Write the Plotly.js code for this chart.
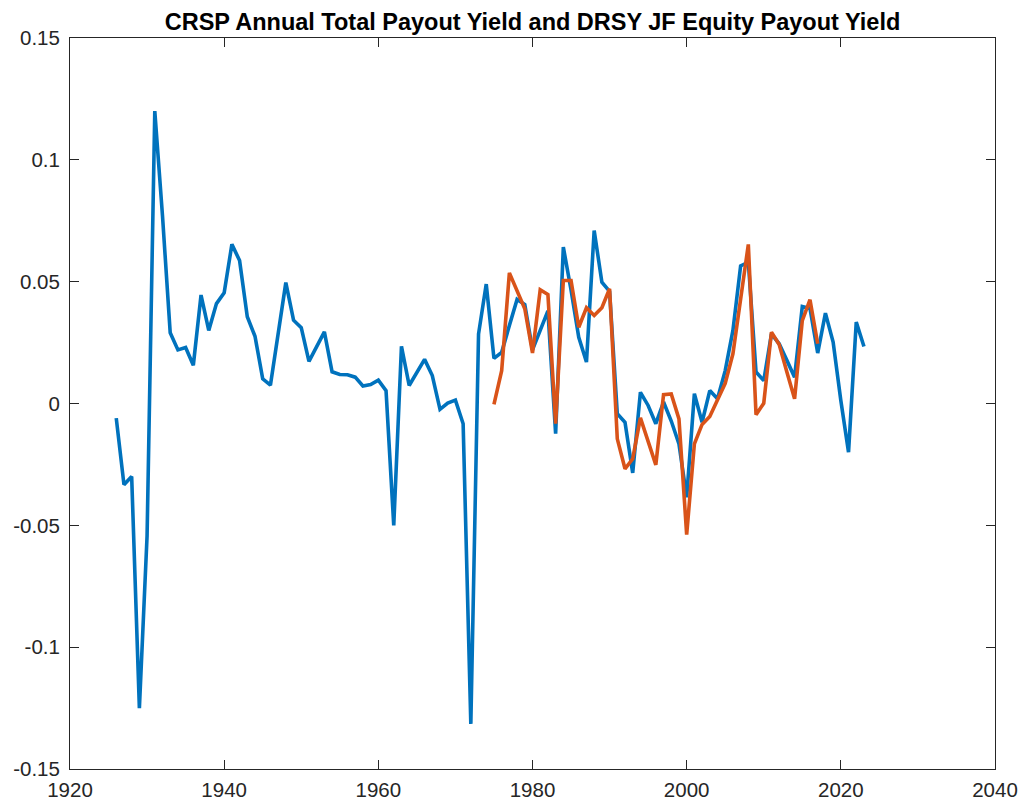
<!DOCTYPE html>
<html><head><meta charset="utf-8">
<script src="https://cdn.plot.ly/plotly-3.0.1.min.js"></script>
<style>html,body{margin:0;padding:0;background:#fff;}#chart{width:1020px;height:802px;}</style>
</head><body><div id="chart"></div>
<script>
const crspYears = [1926,1927,1928,1929,1930,1931,1932,1933,1934,1935,1936,1937,1938,1939,1940,1941,1942,1943,1944,1945,1946,1947,1948,1949,1950,1951,1952,1953,1954,1955,1956,1957,1958,1959,1960,1961,1962,1963,1964,1965,1966,1967,1968,1969,1970,1971,1972,1973,1974,1975,1976,1977,1978,1979,1980,1981,1982,1983,1984,1985,1986,1987,1988,1989,1990,1991,1992,1993,1994,1995,1996,1997,1998,1999,2000,2001,2002,2003,2004,2005,2006,2007,2008,2009,2010,2011,2012,2013,2014,2015,2016,2017,2018,2019,2020,2021,2022,2023];
const crspYield = [-0.006,-0.0333,-0.030,-0.125,-0.0543,0.120,0.077,0.029,0.022,0.023,0.0157,0.0445,0.030,0.041,0.0454,0.0653,0.0587,0.0356,0.0276,0.0101,0.0075,0.0276,0.0496,0.0342,0.0311,0.0173,0.0237,0.0294,0.0130,0.0119,0.0118,0.0108,0.0072,0.0078,0.0096,0.0053,-0.050,0.0235,0.0074,0.0127,0.0181,0.0115,-0.0024,0.0002,0.0014,-0.0083,-0.1315,0.0285,0.0490,0.0185,0.0210,0.032,0.0427,0.0406,0.022,0.030,0.038,-0.0124,0.0642,0.0466,0.0272,0.017,0.071,0.0498,0.046,-0.0042,-0.0077,-0.0285,0.0046,-0.0008,-0.0083,0.0006,-0.0072,-0.0166,-0.0385,0.004,-0.0077,0.0053,0.0020,0.0135,0.030,0.0565,0.058,0.0129,0.0094,0.0286,0.0245,0.0177,0.0108,0.0398,0.039,0.0207,0.0371,0.0252,0.0012,-0.020,0.0334,0.0234];
const drsyYears = [1975,1976,1977,1978,1979,1980,1981,1982,1983,1984,1985,1986,1987,1988,1989,1990,1991,1992,1993,1994,1995,1996,1997,1998,1999,2000,2001,2002,2003,2004,2005,2006,2007,2008,2009,2010,2011,2012,2013,2014,2015,2016,2017];
const drsyYield = [-0.0004,0.0135,0.0536,0.0464,0.0389,0.0207,0.0467,0.0447,-0.0083,0.0505,0.0505,0.0313,0.0393,0.0361,0.0393,0.0471,-0.0145,-0.0268,-0.0227,-0.0059,-0.0159,-0.0252,0.0036,0.0039,-0.0063,-0.0538,-0.0166,-0.0086,-0.0053,0.0012,0.0083,0.0204,0.0423,0.0653,-0.0046,0.0001,0.0293,0.0242,0.0129,0.0019,0.034,0.0426,0.0245];
const yTickVals = [-0.15,-0.1,-0.05,0,0.05,0.1,0.15];
const yTickText = ["-0.15","-0.1","-0.05","0","0.05","0.1","0.15"];
const xTickVals = [1920,1940,1960,1980,2000,2020,2040];
const xTickText = ["1920","1940","1960","1980","2000","2020","2040"];

const font = "Liberation Sans, Arial, Helvetica, sans-serif";
const traces = [
  {x: crspYears, y: crspYield, type:'scatter', mode:'lines', line:{color:'#0072BD', width:3.6}, name:'CRSP'},
  {x: drsyYears, y: drsyYield, type:'scatter', mode:'lines', line:{color:'#D95319', width:3.6}, name:'DRSY JF'}
];
const axisCommon = {showgrid:false, zeroline:false, showline:true, linecolor:'#262626', linewidth:1,
  mirror:'ticks', ticks:'inside', ticklen:9, tickcolor:'#262626', tickwidth:1,
  tickfont:{family:font, size:20.5, color:'#262626'}, tickmode:'array'};
const layout = {
  width:1020, height:802, paper_bgcolor:'#fff', plot_bgcolor:'#fff', showlegend:false,
  margin:{l:70, r:25, t:38, b:33},
  title:{text:'<b>CRSP Annual Total Payout Yield and DRSY JF Equity Payout Yield</b>', font:{family:font, size:23.5, color:'#000'}, xref:'paper', x:0.5, xanchor:'center', y:0.973, yanchor:'middle'},
  xaxis: Object.assign({}, axisCommon, {range:[1920,2040], tickvals:xTickVals, ticktext:xTickText, ticklabelstandoff:2}),
  yaxis: Object.assign({}, axisCommon, {range:[-0.15,0.15], tickvals:yTickVals, ticktext:yTickText, ticklabelstandoff:5})
};
Plotly.newPlot('chart', traces, layout, {displayModeBar:false, staticPlot:true});
</script></body></html>
